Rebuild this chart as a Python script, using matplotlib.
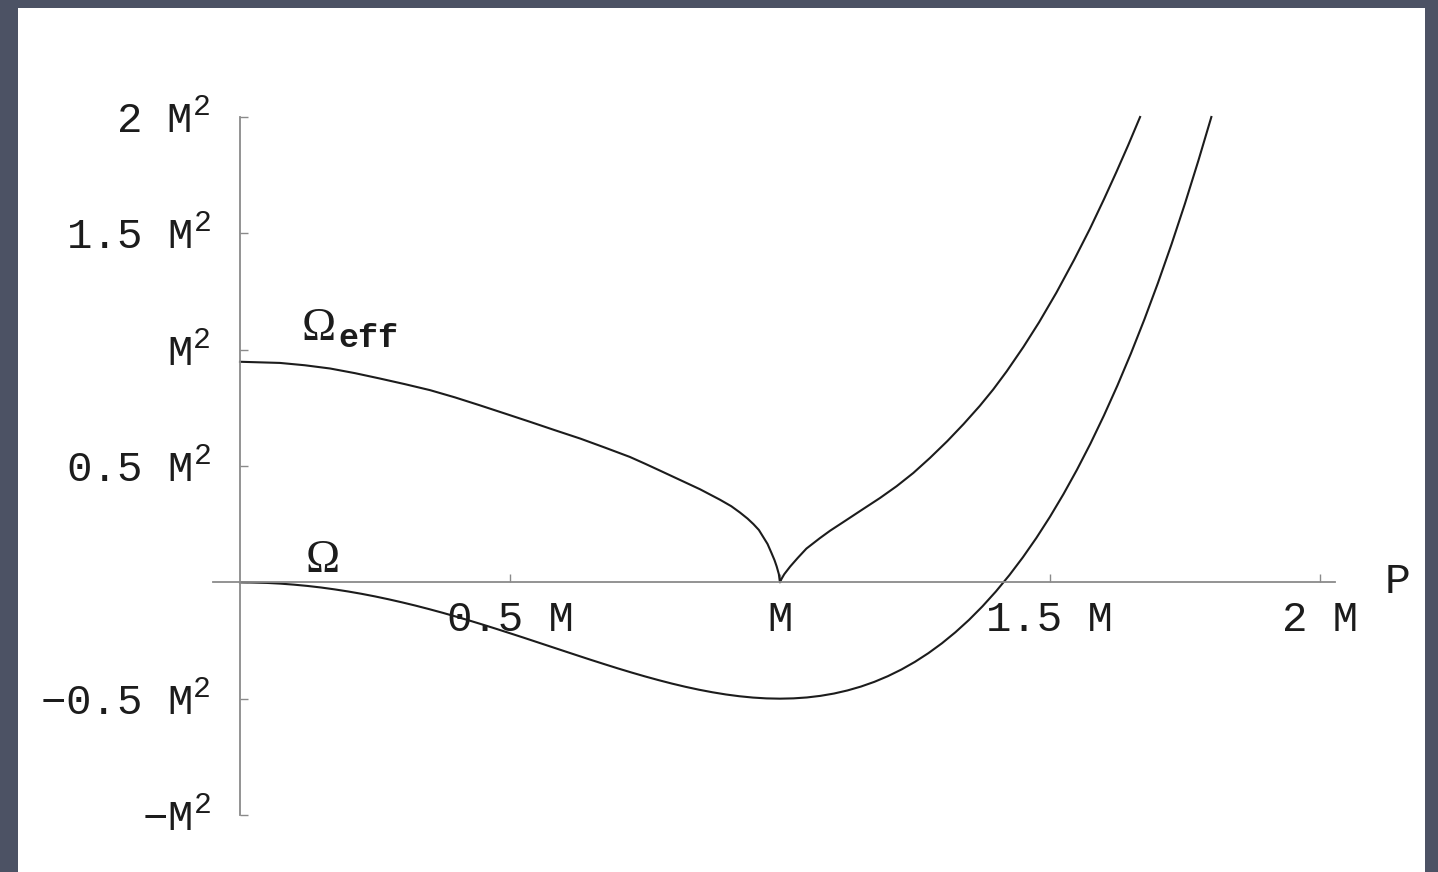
import matplotlib.pyplot as plt
from matplotlib.patches import Rectangle

# Omega(P) and the effective potential, in units of M and M^2
p_omega = [0.0, 0.025, 0.05, 0.075, 0.1, 0.125, 0.15, 0.175, 0.2, 0.225, 0.25,
           0.275, 0.3, 0.325, 0.35, 0.375, 0.4, 0.425, 0.45, 0.475, 0.5, 0.525,
           0.55, 0.575, 0.6, 0.625, 0.65, 0.675, 0.7, 0.725, 0.75, 0.775, 0.8,
           0.825, 0.85, 0.875, 0.9, 0.925, 0.95, 0.975, 1.0, 1.025, 1.05, 1.075,
           1.1, 1.125, 1.15, 1.175, 1.2, 1.225, 1.25, 1.275, 1.3, 1.325, 1.35,
           1.375, 1.4, 1.425, 1.45, 1.475, 1.5, 1.525, 1.55, 1.575, 1.6, 1.625,
           1.65, 1.675, 1.7, 1.725, 1.75, 1.775, 1.799]
omega = [0.0, -0.001, -0.0025, -0.0056, -0.0100, -0.0155, -0.0222, -0.0302,
         -0.0392, -0.0493, -0.0605, -0.0728, -0.0860, -0.1000, -0.1150, -0.1307,
         -0.1472, -0.1643, -0.1820, -0.2002, -0.2188, -0.2376, -0.2568, -0.2760,
         -0.2952, -0.3143, -0.3333, -0.3518, -0.3700, -0.3875, -0.4043, -0.4202,
         -0.4352, -0.4490, -0.4615, -0.4725, -0.4820, -0.4896, -0.4953, -0.4988,
         -0.5000, -0.4987, -0.4948, -0.4879, -0.4780, -0.4647, -0.4480, -0.4276,
         -0.4032, -0.3747, -0.3418, -0.3043, -0.2620, -0.2145, -0.1618, -0.1034,
         -0.0392, 0.0311, 0.1078, 0.1911, 0.2813, 0.3787, 0.4835, 0.5959,
         0.7168, 0.8458, 0.9835, 1.1302, 1.2861, 1.4515, 1.6270, 1.8127, 2.0]

p_eff = [0.0, 0.074, 0.12, 0.167, 0.213, 0.259, 0.305, 0.352, 0.398, 0.444,
         0.49, 0.537, 0.583, 0.630, 0.676, 0.722, 0.75, 0.778, 0.815, 0.852,
         0.889, 0.91, 0.926, 0.94, 0.951, 0.961, 0.969, 0.977, 0.984, 0.99,
         0.994, 0.998, 1.0,
         1.003, 1.008, 1.019, 1.033, 1.049, 1.074, 1.093, 1.12, 1.154, 1.185,
         1.216, 1.247, 1.278, 1.31, 1.34, 1.37, 1.395, 1.42, 1.451, 1.48, 1.512,
         1.545, 1.574, 1.60, 1.623, 1.645, 1.667]
omega_eff = [0.948, 0.943, 0.933, 0.919, 0.899, 0.876, 0.852, 0.826, 0.795,
             0.761, 0.726, 0.690, 0.654, 0.618, 0.579, 0.539, 0.510, 0.480,
             0.440, 0.400, 0.355, 0.327, 0.300, 0.274, 0.250, 0.225, 0.195,
             0.165, 0.128, 0.095, 0.068, 0.035, 0.0,
             0.015, 0.035, 0.068, 0.105, 0.145, 0.190, 0.222, 0.263, 0.315,
             0.362, 0.413, 0.470, 0.535, 0.607, 0.680, 0.758, 0.829, 0.907,
             1.012, 1.118, 1.245, 1.387, 1.519, 1.646, 1.763, 1.879, 2.0]

xticks = [0.5, 1.0, 1.5, 2.0]
xticklabels = ['0.5 M', 'M', '1.5 M', '2 M']
yticks = [-1.0, -0.5, 0.0, 0.5, 1.0, 1.5, 2.0]
yticklabels = ['\u2212M$^{2}$', '\u22120.5 M$^{2}$', '', '0.5 M$^{2}$', 'M$^{2}$',
               '1.5 M$^{2}$', '2 M$^{2}$']

mono = ['Liberation Mono', 'DejaVu Sans Mono']
axis_grey = '#8a8a8a'
ink = '#1c1c1c'

plt.rcParams['mathtext.fontset'] = 'custom'
plt.rcParams['mathtext.rm'] = 'Liberation Mono'
plt.rcParams['mathtext.it'] = 'Liberation Mono'

fig = plt.figure(figsize=(14.38, 8.72), dpi=100, facecolor='#4c5264')
fig.add_artist(Rectangle((18 / 1438, 0), 1407 / 1438, 864 / 872,
                         transform=fig.transFigure, facecolor='white',
                         edgecolor='none', zorder=0))

ax = fig.add_axes([213 / 1438, 57 / 872, 1122 / 1438, 698 / 872])
ax.set_facecolor('none')
ax.set_xlim(-0.05, 2.028)
ax.set_ylim(-1.0, 2.0)

ax.plot(p_omega, omega, color=ink, lw=1.5, clip_on=False)
ax.plot(p_eff, omega_eff, color=ink, lw=1.5, clip_on=False)

for side in ['top', 'right']:
    ax.spines[side].set_visible(False)
for side in ['left', 'bottom']:
    ax.spines[side].set_position(('data', 0))
    ax.spines[side].set_color(axis_grey)
    ax.spines[side].set_linewidth(1.3)

ax.set_xticks(xticks)
ax.set_xticklabels(xticklabels, family=mono, fontsize=30.5, color=ink)
ax.set_yticks(yticks)
ax.set_yticklabels(yticklabels, family=mono, fontsize=30.5, color=ink)
ax.tick_params(axis='x', direction='in', length=6, width=1, color=axis_grey, pad=13)
ax.tick_params(axis='y', direction='in', length=6, width=1, color=axis_grey, pad=21)

ax.text(2.144, 0.0, 'P', family=mono, fontsize=31, color=ink,
        ha='center', va='center', clip_on=False)

# curve labels
ax.text(0.146, 1.041, '\u03a9', family=['Liberation Serif'], fontsize=33,
        color=ink, ha='center', va='baseline')
ax.text(0.183, 1.012, 'eff', family=mono, fontsize=24, color=ink,
        fontweight='bold', ha='left', va='baseline')
ax.text(0.154, 0.043, '\u03a9', family=['Liberation Serif'], fontsize=33,
        color=ink, ha='center', va='baseline')

fig.savefig('out.png', dpi=100, facecolor=fig.get_facecolor())
plt.close(fig)
